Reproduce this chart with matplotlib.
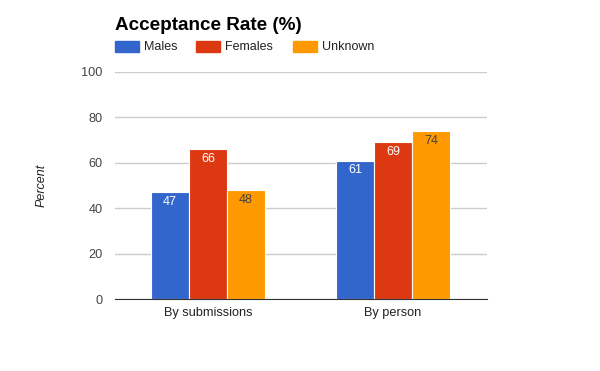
import matplotlib
matplotlib.use("Agg")
import matplotlib.pyplot as plt
import matplotlib.patches as mpatches
import numpy as np

plt.rcParams['font.family'] = ['Liberation Sans', 'DejaVu Sans']

categories = ["By submissions", "By person"]
series_names = ["Males", "Females", "Unknown"]
males = [47, 61]
females = [66, 69]
unknown = [48, 74]
colors = ["#3366cc", "#dc3912", "#ff9900"]
label_colors = ["white", "white", "#444444"]
yticks = [0, 20, 40, 60, 80, 100]

fig = plt.figure(figsize=(6, 3.71), dpi=100)
ax = fig.add_axes([115/600, 1-299/371, 372/600, 227/371])

x = np.arange(len(categories))
w = 0.205
for i, (vals, c, lc) in enumerate(zip([males, females, unknown], colors, label_colors)):
    bars = ax.bar(x + (i-1)*w, vals, width=w, color=c, edgecolor="white", linewidth=0.8, zorder=3)
    for b, v in zip(bars, vals):
        ax.text(b.get_x()+b.get_width()/2, v-1.6, str(v), ha="center", va="top",
                color=lc, fontsize=9, zorder=4)

ax.set_xlim(-0.503, 1.508)
ax.set_ylim(0, 100)
ax.set_yticks(yticks)
ax.set_xticks(x)
ax.set_xticklabels(categories)
ax.tick_params(axis="both", length=0, labelsize=9.2, colors="#222222")
ax.tick_params(axis="y", pad=9, colors="#444444")
ax.tick_params(axis="x", pad=6)
ax.grid(axis="y", color="#cccccc", linewidth=1, zorder=0)
for s in ["top", "right", "left"]:
    ax.spines[s].set_visible(False)
ax.spines["bottom"].set_color("#333333")
ax.spines["bottom"].set_zorder(5)
ax.set_ylabel("Percent", style="italic", fontsize=9, color="#222222", labelpad=24)

fig.text(115/600, 1-25/371, "Acceptance Rate (%)", fontsize=13.6, fontweight="bold",
         ha="left", va="center", color="black")

leg_x = [115, 196, 293]
for lx, name, c in zip(leg_x, series_names, colors):
    fig.patches.append(mpatches.Rectangle((lx/600, 1-52/371), 24/600, 11/371,
                                          transform=fig.transFigure, color=c, figure=fig))
    fig.text((lx+29)/600, 1-46.5/371, name, fontsize=9, ha="left", va="center", color="#222222")

fig.savefig("out.png", dpi=100)
